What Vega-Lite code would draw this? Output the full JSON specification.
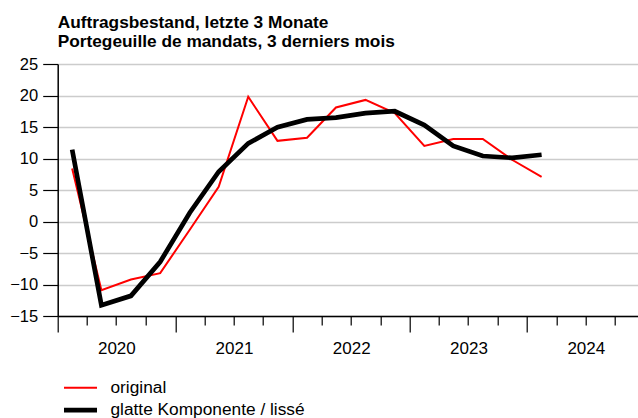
{
  "$schema": "https://vega.github.io/schema/vega-lite/v6.json",
  "autosize": "none",
  "width": 580.3,
  "height": 252,
  "padding": {"left": 57.7, "top": 64, "right": 0, "bottom": 102},
  "background": "white",
  "title": {
    "text": ["Auftragsbestand, letzte 3 Monate", "Portegeuille de mandats, 3 derniers mois"],
    "anchor": "start",
    "frame": "group",
    "font": "Liberation Sans",
    "fontSize": 17.3,
    "fontWeight": "bold",
    "lineHeight": 18.5,
    "color": "#000000",
    "offset": 6
  },
  "data": {
    "values": [
      {"date": "2020-02-15", "series": "original", "value": 8.4},
      {"date": "2020-05-16", "series": "original", "value": -10.9},
      {"date": "2020-08-16", "series": "original", "value": -9.2},
      {"date": "2020-11-15", "series": "original", "value": -8.2},
      {"date": "2021-02-15", "series": "original", "value": -1.3},
      {"date": "2021-05-16", "series": "original", "value": 5.5},
      {"date": "2021-08-16", "series": "original", "value": 19.8},
      {"date": "2021-11-15", "series": "original", "value": 12.8},
      {"date": "2022-02-15", "series": "original", "value": 13.3},
      {"date": "2022-05-16", "series": "original", "value": 18.1},
      {"date": "2022-08-16", "series": "original", "value": 19.3},
      {"date": "2022-11-15", "series": "original", "value": 17.2},
      {"date": "2023-02-15", "series": "original", "value": 12.0},
      {"date": "2023-05-16", "series": "original", "value": 13.1},
      {"date": "2023-08-16", "series": "original", "value": 13.1},
      {"date": "2023-11-15", "series": "original", "value": 9.8},
      {"date": "2024-02-15", "series": "original", "value": 7.1},
      {"date": "2020-02-15", "series": "glatte Komponente / lissé", "value": 11.4},
      {"date": "2020-05-16", "series": "glatte Komponente / lissé", "value": -13.3},
      {"date": "2020-08-16", "series": "glatte Komponente / lissé", "value": -11.8},
      {"date": "2020-11-15", "series": "glatte Komponente / lissé", "value": -6.4},
      {"date": "2021-02-15", "series": "glatte Komponente / lissé", "value": 1.4},
      {"date": "2021-05-16", "series": "glatte Komponente / lissé", "value": 7.9},
      {"date": "2021-08-16", "series": "glatte Komponente / lissé", "value": 12.4},
      {"date": "2021-11-15", "series": "glatte Komponente / lissé", "value": 14.95},
      {"date": "2022-02-15", "series": "glatte Komponente / lissé", "value": 16.2},
      {"date": "2022-05-16", "series": "glatte Komponente / lissé", "value": 16.5},
      {"date": "2022-08-16", "series": "glatte Komponente / lissé", "value": 17.2},
      {"date": "2022-11-15", "series": "glatte Komponente / lissé", "value": 17.5},
      {"date": "2023-02-15", "series": "glatte Komponente / lissé", "value": 15.3},
      {"date": "2023-05-16", "series": "glatte Komponente / lissé", "value": 12.0},
      {"date": "2023-08-16", "series": "glatte Komponente / lissé", "value": 10.4},
      {"date": "2023-11-15", "series": "glatte Komponente / lissé", "value": 10.1},
      {"date": "2024-02-15", "series": "glatte Komponente / lissé", "value": 10.6}
    ]
  },
  "mark": {"type": "line", "strokeCap": "butt", "strokeJoin": "miter", "clip": true},
  "encoding": {
    "x": {
      "field": "date",
      "type": "temporal",
      "scale": {"type": "utc", "domain": [{"year": 2020, "month": 1, "date": 1, "utc": true}, {"year": 2024, "month": 12, "date": 11, "utc": true}]},
      "axis": {
        "title": null,
        "values": [
          {"year": 2020, "month": 1, "date": 1, "utc": true},
          {"year": 2020, "month": 4, "date": 1, "utc": true},
          {"year": 2020, "month": 7, "date": 1, "utc": true},
          {"year": 2020, "month": 10, "date": 1, "utc": true},
          {"year": 2021, "month": 1, "date": 1, "utc": true},
          {"year": 2021, "month": 4, "date": 1, "utc": true},
          {"year": 2021, "month": 7, "date": 1, "utc": true},
          {"year": 2021, "month": 10, "date": 1, "utc": true},
          {"year": 2022, "month": 1, "date": 1, "utc": true},
          {"year": 2022, "month": 4, "date": 1, "utc": true},
          {"year": 2022, "month": 7, "date": 1, "utc": true},
          {"year": 2022, "month": 10, "date": 1, "utc": true},
          {"year": 2023, "month": 1, "date": 1, "utc": true},
          {"year": 2023, "month": 4, "date": 1, "utc": true},
          {"year": 2023, "month": 7, "date": 1, "utc": true},
          {"year": 2023, "month": 10, "date": 1, "utc": true},
          {"year": 2024, "month": 1, "date": 1, "utc": true},
          {"year": 2024, "month": 4, "date": 1, "utc": true},
          {"year": 2024, "month": 7, "date": 1, "utc": true},
          {"year": 2024, "month": 10, "date": 1, "utc": true}
        ],
        "labelExpr": "utcmonth(datum.value) == 0 ? utcFormat(datum.value, '%Y') : ''",
        "labelOffset": 58.65,
        "labelAlign": "center",
        "labelPadding": 8,
        "labelFont": "Liberation Sans",
        "labelFontSize": 17,
        "labelColor": "#000000",
        "labelOverlap": false,
        "labelBound": false,
        "labelFlush": false,
        "grid": false,
        "domainColor": "#000000",
        "domainWidth": 1.5,
        "tickColor": "#000000",
        "tickWidth": 1.2,
        "tickSize": {"condition": {"test": "utcmonth(datum.value) == 0", "value": 16}, "value": 9}
      }
    },
    "y": {
      "field": "value",
      "type": "quantitative",
      "scale": {"domain": [-15, 25], "nice": false, "zero": false},
      "axis": {
        "title": null,
        "values": [-15, -10, -5, 0, 5, 10, 15, 20, 25],
        "labelExpr": "replace(toString(datum.value), '-', '\u2212')",
        "labelFont": "Liberation Sans",
        "labelFontSize": 16.5,
        "labelColor": "#000000",
        "labelPadding": 5,
        "tickSize": 15,
        "tickColor": "#000000",
        "tickWidth": 1.2,
        "domainColor": "#000000",
        "domainWidth": 1.5,
        "grid": true,
        "gridColor": "#cccccc",
        "gridWidth": 1.5
      }
    },
    "color": {
      "field": "series",
      "type": "nominal",
      "sort": ["original", "glatte Komponente / lissé"],
      "scale": {"domain": ["original", "glatte Komponente / lissé"], "range": ["#ff0000", "#000000"]},
      "legend": {
        "title": null,
        "orient": "none",
        "legendX": 9.3,
        "legendY": 311.7,
        "direction": "vertical",
        "symbolType": "M-1.5,0H1.5",
        "symbolSize": 484,
        "labelFont": "Liberation Sans",
        "labelFontSize": 17.3,
        "labelColor": "#000000",
        "labelOffset": 16.5,
        "labelLimit": 500,
        "rowPadding": 0,
        "padding": 0
      }
    },
    "strokeWidth": {
      "field": "series",
      "type": "nominal",
      "scale": {"domain": ["original", "glatte Komponente / lissé"], "range": [2, 4.7]},
      "legend": {"title": null}
    }
  },
  "config": {
    "view": {"stroke": null}
  }
}
